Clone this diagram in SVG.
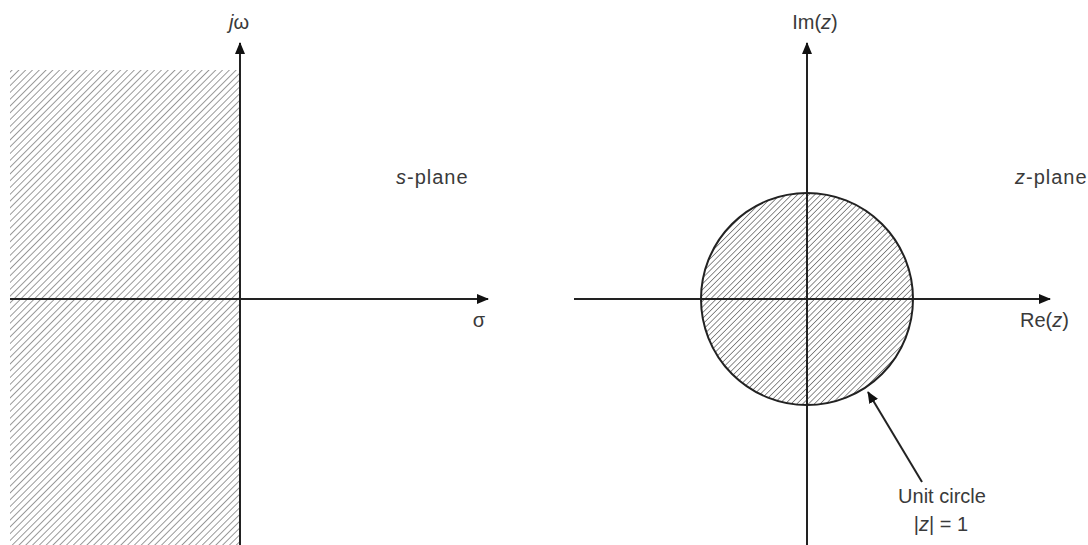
<svg xmlns="http://www.w3.org/2000/svg" width="1088" height="545" viewBox="0 0 1088 545">
<style>
.ax{stroke:#222;stroke-width:2;fill:none}
.t{font-family:"Liberation Sans",Arial,sans-serif;font-size:20px;fill:#3a3a3a}
.i{font-style:italic}
</style>
<defs>
<pattern id="hatch" patternUnits="userSpaceOnUse" width="4.8" height="10" patternTransform="rotate(45)">
<line x1="0" y1="0" x2="0" y2="10" stroke="#7a7a7a" stroke-width="1.5"/>
</pattern>
<pattern id="hatch2" patternUnits="userSpaceOnUse" width="4.1" height="10" patternTransform="rotate(45)">
<line x1="0" y1="0" x2="0" y2="10" stroke="#5e5e5e" stroke-width="1.4"/>
</pattern>
<marker id="ah" markerWidth="12" markerHeight="10" refX="11" refY="5" orient="auto" markerUnits="userSpaceOnUse">
<path d="M0,0 L12,5 L0,10 Z" fill="#111"/>
</marker>
<clipPath id="cc"><circle cx="807" cy="299" r="106"/></clipPath>
</defs>
<g id="s-region">
<rect x="10" y="70" width="230" height="475" fill="url(#hatch)"/>
</g>
<g id="unit-circle">
<rect x="700" y="193" width="214" height="214" fill="url(#hatch2)" clip-path="url(#cc)"/>
<circle cx="807" cy="299" r="106" fill="none" stroke="#222" stroke-width="2"/>
</g>
<g id="connectors">
<line class="ax" x1="240" y1="545" x2="240" y2="43" marker-end="url(#ah)"/>
<line class="ax" x1="10" y1="299" x2="488" y2="299" marker-end="url(#ah)"/>
<line class="ax" x1="807" y1="545" x2="807" y2="43" marker-end="url(#ah)"/>
<line class="ax" x1="574" y1="299" x2="1050" y2="299" marker-end="url(#ah)"/>
<line class="ax" x1="922" y1="482" x2="868" y2="392" marker-end="url(#ah)"/>
</g>
<g id="labels">
<text class="t" x="239" y="29" text-anchor="middle"><tspan class="i">j</tspan>ω</text>
<text class="t" x="479" y="327" text-anchor="middle">σ</text>
<text class="t" x="396" y="184" letter-spacing="1"><tspan class="i">s</tspan>-plane</text>
<text class="t" x="815" y="29" text-anchor="middle">Im(<tspan class="i">z</tspan>)</text>
<text class="t" x="1015" y="184" letter-spacing="1"><tspan class="i">z</tspan>-plane</text>
<text class="t" x="1020" y="327">Re(<tspan class="i">z</tspan>)</text>
<text class="t" x="942" y="503" text-anchor="middle">Unit circle</text>
<text class="t" x="941" y="531" text-anchor="middle">|<tspan class="i">z</tspan>| = 1</text>
</g>
</svg>
